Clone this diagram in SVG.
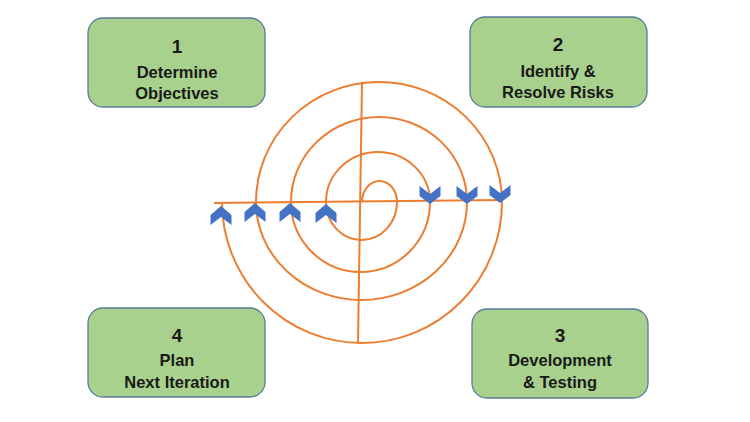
<svg xmlns="http://www.w3.org/2000/svg" width="750" height="422" viewBox="0 0 750 422">
<style>
.box{fill:#A9D18E;stroke:#5A7A94;stroke-width:1.3}
.num{font-family:"Liberation Sans",Arial,sans-serif;font-weight:bold;font-size:19px;fill:#1a1a1a;text-anchor:middle}
.lbl{font-family:"Liberation Sans",Arial,sans-serif;font-weight:bold;font-size:16.5px;fill:#1a1a1a;text-anchor:middle}
.or{fill:none;stroke:#ED7D31;stroke-width:2}
.chev{fill:#4472C4}
</style>
<defs>
<path id="up" d="M-10.5,19 L0,11 L10.5,19 L10.5,9 L0,0 L-10.5,9 Z"/>
<path id="dn" d="M-10.5,0 L0,8 L10.5,0 L10.5,10 L0,18 L-10.5,10 Z"/>
</defs>
<rect width="750" height="422" fill="#ffffff"/>
<g id="connectors">
<line class="or" x1="214" y1="203" x2="502" y2="200"/>
<line class="or" x1="362" y1="82" x2="358" y2="343"/>
<path class="or" d="M362,202 A17.5,21 0 0 1 397,202 A35.5,38 0 0 1 326,202 A52,50 0 0 1 430,202 A69.5,70 0 0 1 291,202 A88,85 0 0 1 467,202 A105.5,98 0 0 1 256,202 A123,120 0 0 1 502,202 A140,141 0 0 1 222,202"/>
<use href="#up" class="chev" x="221" y="206"/>
<use href="#up" class="chev" x="255" y="203"/>
<use href="#up" class="chev" x="290" y="203"/>
<use href="#up" class="chev" x="326" y="204"/>
<use href="#dn" class="chev" x="430" y="186"/>
<use href="#dn" class="chev" x="467" y="186"/>
<use href="#dn" class="chev" x="500" y="185"/>
</g>
<g id="node1">
<rect class="box" x="88" y="18" width="177" height="89" rx="15"/>
<text class="num" x="177" y="53">1</text>
<text class="lbl" x="177" y="78">Determine</text>
<text class="lbl" x="177" y="99">Objectives</text>
</g>
<g id="node2">
<rect class="box" x="470" y="17" width="177" height="90" rx="15"/>
<text class="num" x="558" y="51">2</text>
<text class="lbl" x="558" y="77">Identify &amp;</text>
<text class="lbl" x="558" y="98">Resolve Risks</text>
</g>
<g id="node4">
<rect class="box" x="88" y="308" width="177" height="89" rx="15"/>
<text class="num" x="177" y="342">4</text>
<text class="lbl" x="177" y="366">Plan</text>
<text class="lbl" x="177" y="388">Next Iteration</text>
</g>
<g id="node3">
<rect class="box" x="472" y="309" width="176" height="89" rx="15"/>
<text class="num" x="560" y="342">3</text>
<text class="lbl" x="560" y="366">Development</text>
<text class="lbl" x="560" y="388">&amp; Testing</text>
</g>
</svg>
